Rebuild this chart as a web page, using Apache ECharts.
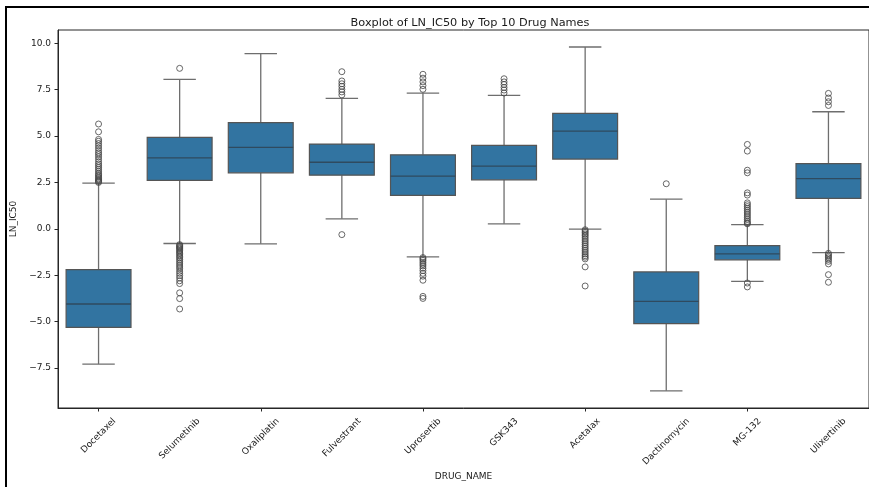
<!DOCTYPE html>
<html>
<head>
<meta charset="utf-8">
<script src="https://cdn.jsdelivr.net/npm/echarts@6/dist/echarts.min.js"></script>
<style>html,body{margin:0;padding:0;background:#fff;}#c{width:869px;height:487px;}</style>
</head>
<body>
<div id="c"></div>
<script>
const categories = ['Docetaxel','Selumetinib','Oxaliplatin','Fulvestrant','Uprosertib','GSK343','Acetalax','Dactinomycin','MG-132','Ulixertinib'];
const whiskerLow  = [-7.29, -0.79, -0.81, 0.54, -1.51, 0.27, -0.02, -8.73, -2.83, -1.28];
const q1          = [-5.31, 2.61, 3.02, 2.89, 1.80, 2.64, 3.76, -5.11, -1.67, 1.64];
const median      = [-4.05, 3.83, 4.39, 3.59, 2.84, 3.38, 5.27, -3.91, -1.35, 2.71];
const q3          = [-2.20, 4.93, 5.72, 4.57, 3.99, 4.50, 6.22, -2.32, -0.90, 3.52];
const whiskerHigh = [2.46, 8.06, 9.44, 7.03, 7.32, 7.19, 9.80, 1.60, 0.23, 6.31];

const docetaxelOut = [2.5,2.55,2.6,2.65,2.7,2.78,2.85,2.92,3.0,3.1,3.2,3.3,3.4,3.5,3.62,3.75,3.88,4.0,4.1,4.22,4.35,4.48,4.6,4.72,4.82,5.23,5.65];
const selumetinibOut = [8.65,-0.85,-0.9,-0.95,-1.0,-1.05,-1.1,-1.18,-1.25,-1.32,-1.4,-1.48,-1.56,-1.65,-1.75,-1.85,-1.95,-2.05,-2.15,-2.28,-2.4,-2.52,-2.65,-2.8,-2.95,-3.45,-3.76,-4.32];
const oxaliplatinOut = [];
const fulvestrantOut = [8.47,7.97,7.82,7.68,7.52,7.38,7.22,-0.31];
const uprosertibOut = [8.33,8.12,7.92,7.72,7.52,-1.55,-1.62,-1.7,-1.8,-1.9,-2.0,-2.12,-2.25,-2.4,-2.55,-2.77,-3.64,-3.75];
const gsk343Out = [8.09,7.92,7.78,7.62,7.48,7.32];
const acetalaxOut = [-0.05,-0.12,-0.2,-0.28,-0.36,-0.45,-0.55,-0.65,-0.75,-0.85,-0.95,-1.05,-1.15,-1.25,-1.35,-1.45,-1.53,-1.62,-2.05,-3.08];
const dactinomycinOut = [2.43];
const mg132Out = [4.55,4.19,3.16,3.02,1.94,1.82,1.4,1.3,1.2,1.1,1.0,0.9,0.8,0.7,0.6,0.5,0.4,0.32,0.27,-2.92,-3.13];
const ulixertinibOut = [7.3,7.05,6.85,6.65,-1.32,-1.4,-1.48,-1.56,-1.65,-1.75,-1.89,-2.47,-2.88];
const outlierLists = [docetaxelOut, selumetinibOut, oxaliplatinOut, fulvestrantOut, uprosertibOut, gsk343Out, acetalaxOut, dactinomycinOut, mg132Out, ulixertinibOut];

const yTicks = [-7.5, -5, -2.5, 0, 2.5, 5, 7.5, 10];
const yMin = -9.656, yMax = 10.717;

const FONT = '"DejaVu Sans", sans-serif';
const TXT = '#1a1a1a';
const FILL = '#3274a1';

const measureCtx = document.createElement('canvas').getContext('2d');
measureCtx.font = '9px "DejaVu Sans"';

const boxData = categories.map((c, i) => [i, whiskerLow[i], q1[i], median[i], q3[i], whiskerHigh[i]]);
const outlierData = [];
outlierLists.forEach((arr, i) => arr.forEach(v => outlierData.push([i, v])));

const chart = echarts.init(document.getElementById('c'), null, {renderer: 'canvas'});
chart.setOption({
  animation: false,
  backgroundColor: '#fff',
  title: {
    text: 'Boxplot of LN_IC50 by Top 10 Drug Names',
    left: 465, top: 13, textAlign: 'center',
    textStyle: {fontFamily: FONT, fontSize: 11.3, fontWeight: 'normal', color: TXT}
  },
  graphic: [{
    type: 'rect', silent: true,
    shape: {x: 6, y: 7, width: 880, height: 500},
    style: {fill: 'none', stroke: '#000', lineWidth: 2}
  }],
  grid: {left: 58, top: 30, width: 814, height: 378, show: true, borderColor: '#262626', borderWidth: 1, backgroundColor: 'transparent'},
  xAxis: {
    type: 'category', data: categories, boundaryGap: true,
    axisLine: {show: true, onZero: false, lineStyle: {color: '#262626', width: 1}},
    axisTick: {show: true, alignWithLabel: true, length: 3.5, lineStyle: {color: '#262626'}},
    axisLabel: {show: false},
    splitLine: {show: false},
    name: 'DRUG_NAME', nameLocation: 'middle', nameGap: 64,
    nameTextStyle: {fontFamily: FONT, fontSize: 9, color: TXT}
  },
  yAxis: {
    type: 'value', min: yMin, max: yMax,
    axisLine: {show: true, lineStyle: {color: '#262626', width: 1}},
    axisTick: {show: true, length: 3.5, customValues: yTicks, lineStyle: {color: '#262626'}},
    axisLabel: {
      customValues: yTicks, margin: 7,
      fontFamily: FONT, fontSize: 9, color: TXT,
      formatter: v => (v < 0 ? '\u2212' : '') + Math.abs(v).toFixed(1)
    },
    splitLine: {show: false},
    name: 'LN_IC50', nameLocation: 'middle', nameGap: 32, nameRotate: 90,
    nameTextStyle: {fontFamily: FONT, fontSize: 9, color: TXT}
  },
  series: [
    {
      type: 'custom',
      data: boxData,
      encode: {x: 0, y: [1, 2, 3, 4, 5]},
      z: 2,
      renderItem: function (params, api) {
        const i = api.value(0);
        const band = api.size([1, 0])[0];
        const bw = band * 0.8;
        const half = bw / 2;
        const cap = bw / 4;
        const x = api.coord([i, 0])[0];
        const yLo = api.coord([i, api.value(1)])[1];
        const yQ1 = api.coord([i, api.value(2)])[1];
        const yMed = api.coord([i, api.value(3)])[1];
        const yQ3 = api.coord([i, api.value(4)])[1];
        const yHi = api.coord([i, api.value(5)])[1];
        const ws = {stroke: '#6e6e6e', lineWidth: 1.3};
        return {
          type: 'group',
          children: [
            {type: 'line', shape: {x1: x, y1: yQ1, x2: x, y2: yLo}, style: ws},
            {type: 'line', shape: {x1: x, y1: yQ3, x2: x, y2: yHi}, style: ws},
            {type: 'line', shape: {x1: x - cap, y1: yLo, x2: x + cap, y2: yLo}, style: ws},
            {type: 'line', shape: {x1: x - cap, y1: yHi, x2: x + cap, y2: yHi}, style: ws},
            {type: 'rect', shape: {x: x - half, y: yQ3, width: bw, height: yQ1 - yQ3}, style: {fill: FILL, stroke: '#555', lineWidth: 1.2}},
            {type: 'line', shape: {x1: x - half, y1: yMed, x2: x + half, y2: yMed}, style: {stroke: '#2f4a5f', lineWidth: 1.3}}
          ]
        };
      }
    },
    {
      type: 'scatter',
      data: outlierData,
      symbol: 'circle',
      symbolSize: 6,
      z: 3,
      itemStyle: {color: 'rgba(0,0,0,0)', borderColor: '#444', borderWidth: 1}
    },
    {
      type: 'custom',
      data: categories.map((c, i) => [i, yMin]),
      encode: {x: 0, y: 1},
      clip: false,
      silent: true,
      z: 4,
      renderItem: function (params, api) {
        const i = api.value(0);
        const p = api.coord([i, yMin]);
        const text = categories[i];
        const w = measureCtx.measureText(text).width;
        const h = 10.5;
        const top = p[1] + 8;
        const cy = top + (w + h) * 0.35355;
        return {
          type: 'text',
          x: p[0], y: cy, rotation: Math.PI / 4,
          style: {text: text, align: 'center', verticalAlign: 'middle', font: '9px "DejaVu Sans", sans-serif', fill: TXT}
        };
      }
    }
  ]
});
</script>
</body>
</html>
